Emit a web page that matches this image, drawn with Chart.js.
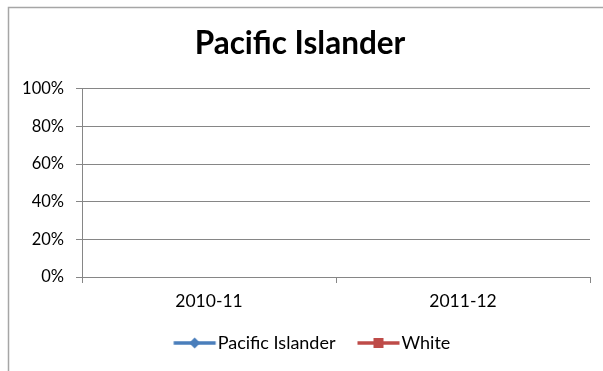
<!DOCTYPE html>
<html>
<head>
<meta charset="utf-8">
<script src="https://cdn.jsdelivr.net/npm/chart.js@4/dist/chart.umd.min.js"></script>
<style>
html,body{margin:0;padding:0;background:#fff;}
#wrap{position:relative;width:603px;height:371px;}
</style>
</head>
<body>
<div id="wrap"><canvas id="c" width="603" height="371"></canvas></div>
<script>
const categories = ['2010-11', '2011-12'];
const seriesNames = ['Pacific Islander', 'White'];
const pacificIslander = [null, null];
const white = [null, null];
const yTicks = [0, 0.2, 0.4, 0.6, 0.8, 1.0];
const titleText = 'Pacific Islander';

const BLUE = '#4a7ebb';
const RED = '#be4b48';
const GRID = '#868686';
const FONT = 'Lato, "Open Sans", sans-serif';

function makeIcon(color, shape) {
  const cv = document.createElement('canvas');
  cv.width = 70; cv.height = 14;
  const g = cv.getContext('2d');
  const a = 23.5, L = 42, mid = a + L / 2;
  g.strokeStyle = color; g.lineWidth = 3.5;
  g.beginPath(); g.moveTo(a, 7); g.lineTo(a + L, 7); g.stroke();
  g.fillStyle = color;
  if (shape === 'diamond') {
    g.beginPath(); g.moveTo(mid, 1.5); g.lineTo(mid + 5.5, 7); g.lineTo(mid, 12.5); g.lineTo(mid - 5.5, 7); g.closePath(); g.fill();
  } else {
    g.fillRect(mid - 5, 2, 10, 10);
  }
  return cv;
}
const icons = [makeIcon(BLUE, 'diamond'), makeIcon(RED, 'square')];

const borderPlugin = {
  id: 'outerBorder',
  afterLayout(chart) {
    if (chart.legend) { chart.legend.left += 6; chart.legend.right += 6; }
  },
  beforeDraw(chart) {
    const ctx = chart.ctx;
    ctx.save();
    ctx.strokeStyle = '#a6a6a6';
    ctx.lineWidth = 1.5;
    ctx.beginPath();
    ctx.moveTo(603, 7.5); ctx.lineTo(8.5, 7.5); ctx.lineTo(8.5, 371);
    ctx.stroke();
    ctx.restore();
  }
};

new Chart(document.getElementById('c'), {
  type: 'line',
  data: {
    labels: categories,
    datasets: [
      { label: seriesNames[0], data: pacificIslander, borderColor: BLUE, backgroundColor: BLUE, pointStyle: 'rectRot', pointRadius: 5, borderWidth: 3 },
      { label: seriesNames[1], data: white, borderColor: RED, backgroundColor: RED, pointStyle: 'rect', pointRadius: 5, borderWidth: 3 }
    ]
  },
  options: {
    responsive: false,
    animation: false,
    devicePixelRatio: 1,
    layout: { padding: { left: 10, right: 13, top: 15, bottom: 9 } },
    plugins: {
      title: {
        display: true, text: titleText, color: '#000',
        font: { family: FONT, size: 31.5, weight: 'bold' }, lineHeight: 1.2,
        padding: { top: 10, bottom: 26 }
      },
      legend: {
        position: 'bottom',
        labels: {
          color: '#000', font: { family: FONT, size: 18 },
          usePointStyle: true, pointStyleWidth: 47, padding: 10,
          generateLabels(chart) {
            const items = Chart.defaults.plugins.legend.labels.generateLabels(chart);
            items.forEach((it, i) => { it.pointStyle = icons[i]; });
            return items;
          }
        }
      },
      tooltip: { enabled: false }
    },
    scales: {
      x: {
        type: 'category', offset: true,
        afterFit(scale) { scale.height += 4; },
        grid: { offset: true, drawOnChartArea: false, drawTicks: true, tickLength: 6, color: GRID },
        border: { display: true, color: GRID, width: 1 },
        ticks: { color: '#000', font: { family: FONT, size: 17.5 }, padding: 8, maxRotation: 0 }
      },
      y: {
        min: 0, max: 1,
        afterFit(scale) { scale.width = 72; },
        afterBuildTicks(scale) { scale.ticks = yTicks.map(v => ({ value: v })); },
        grid: { color: GRID, tickLength: 6, drawTicks: true },
        border: { display: true, color: GRID, width: 1 },
        ticks: { color: '#000', font: { family: FONT, size: 16.5 }, padding: 12,
          callback: v => Math.round(v * 100) + '%' }
      }
    }
  },
  plugins: [borderPlugin]
});
</script>
</body>
</html>
